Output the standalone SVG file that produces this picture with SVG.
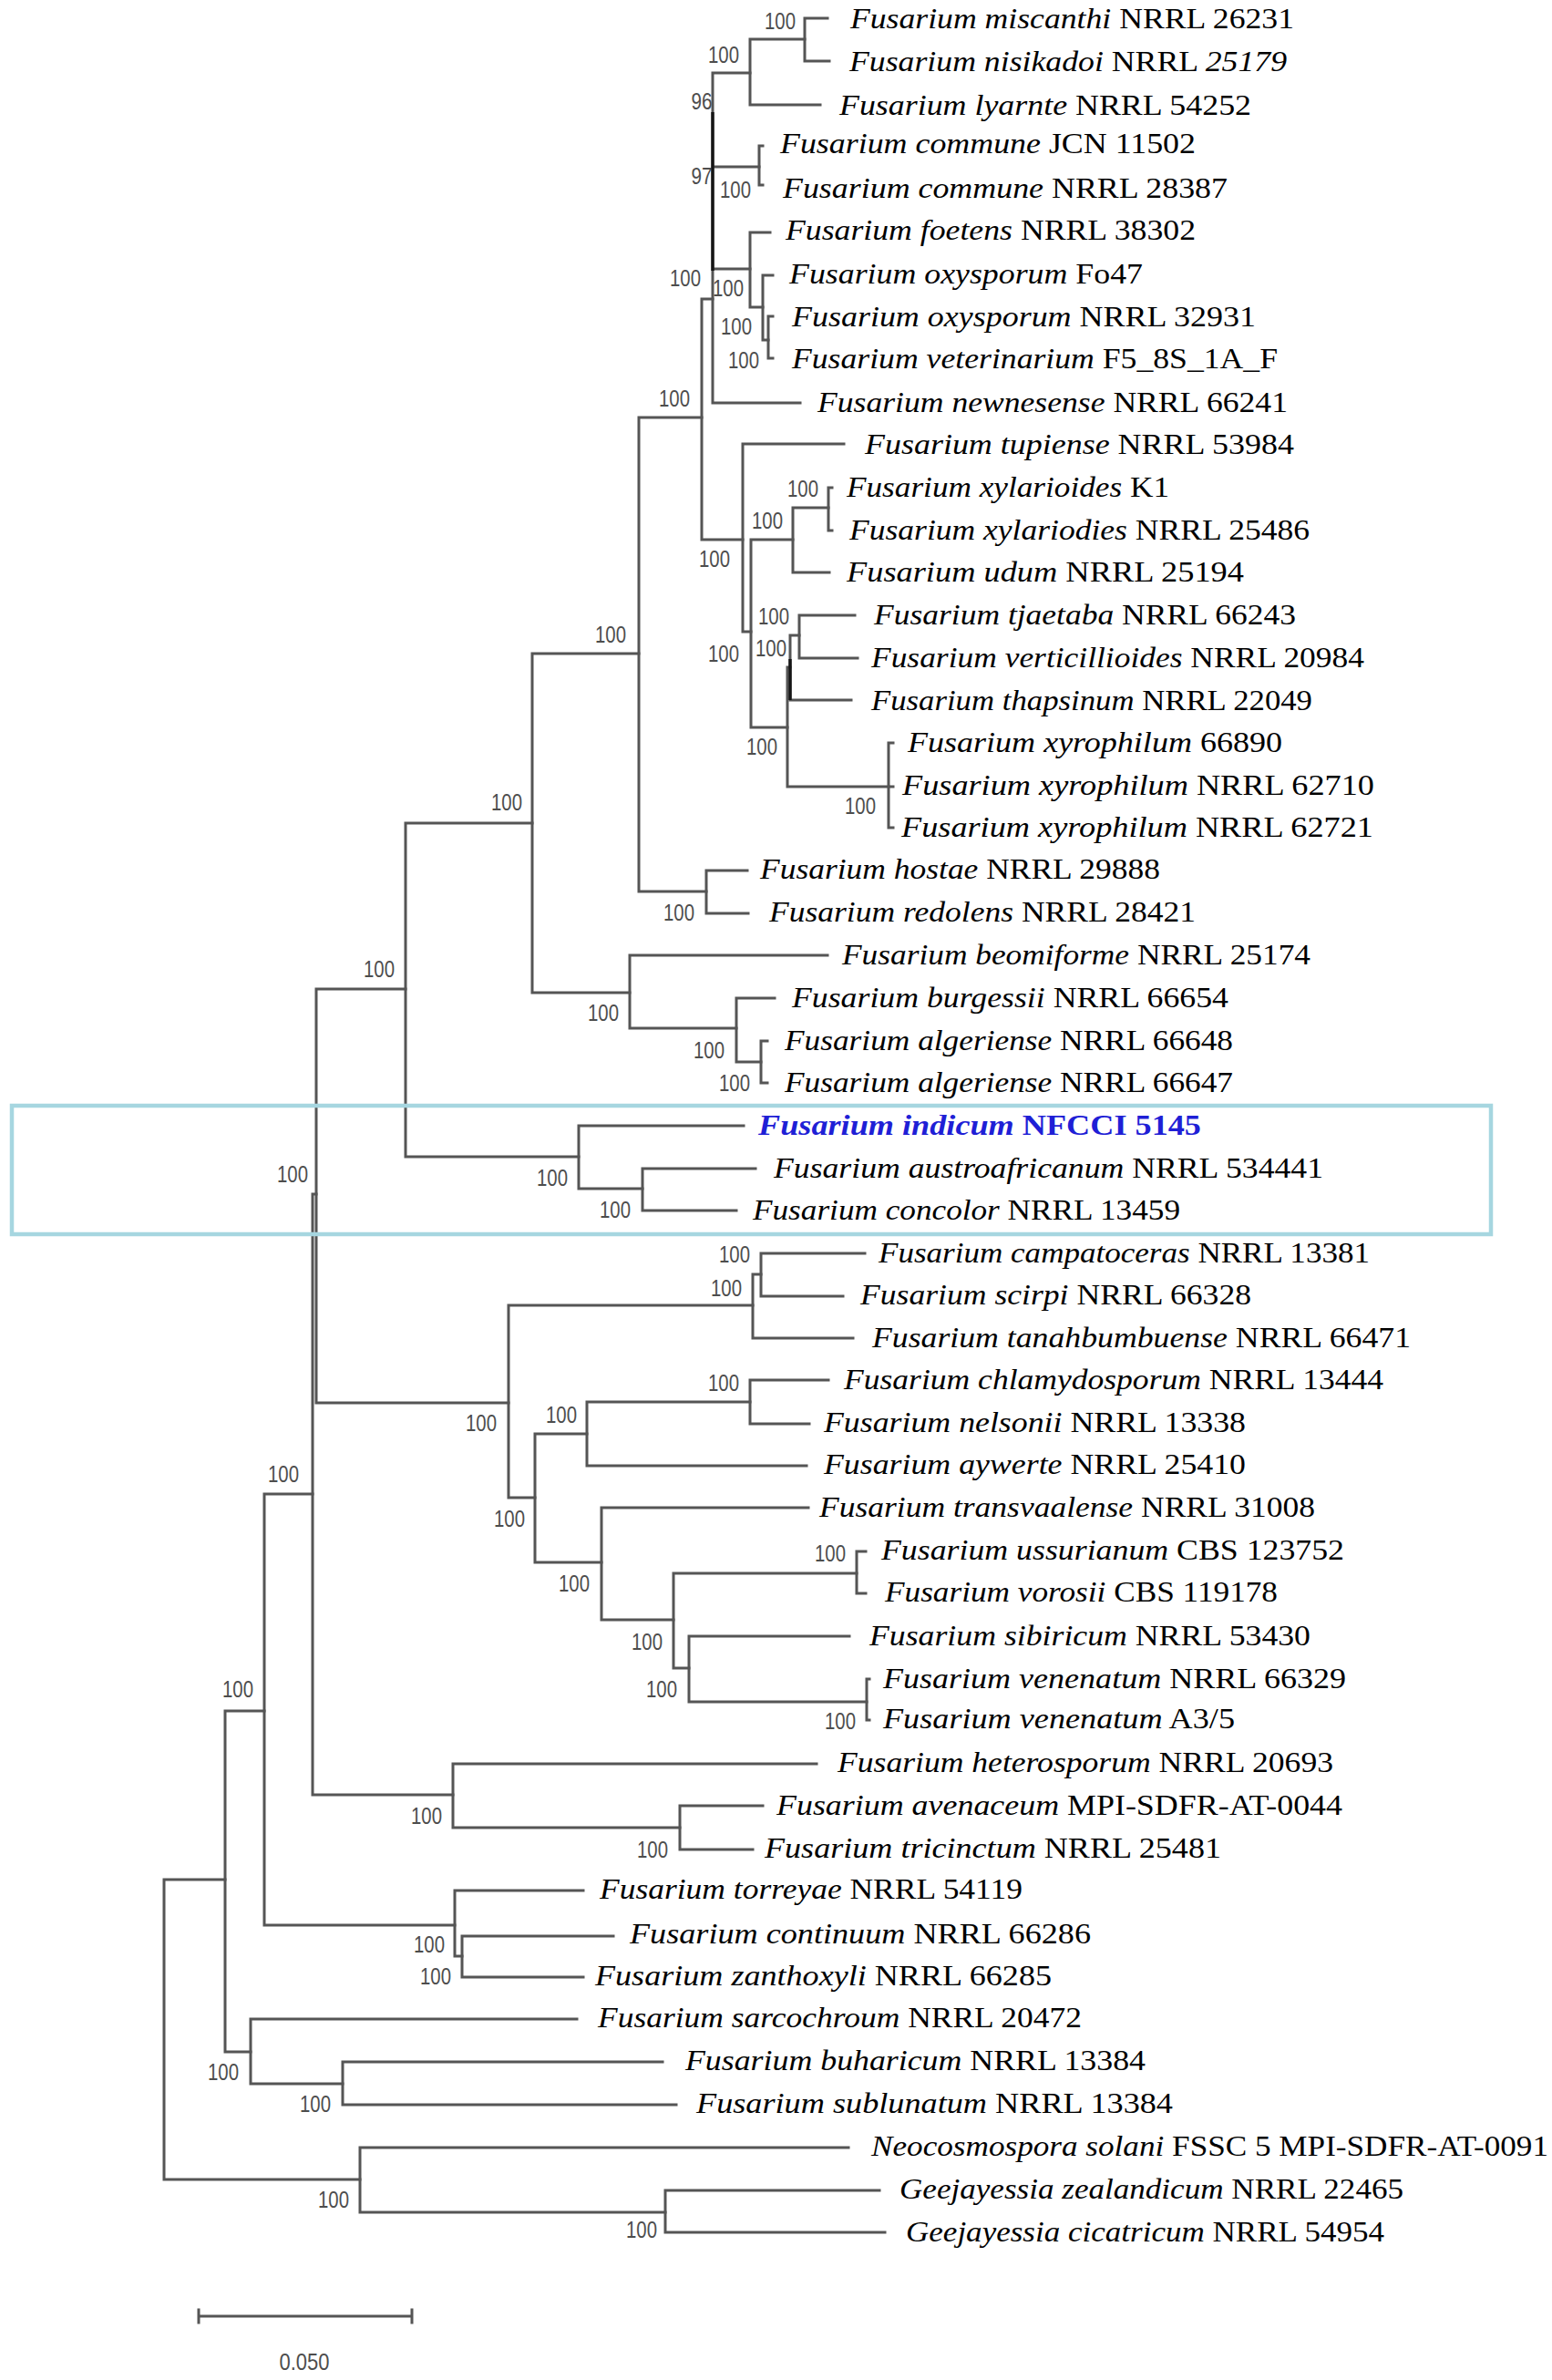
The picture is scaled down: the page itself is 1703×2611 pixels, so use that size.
<svg xmlns="http://www.w3.org/2000/svg" width="1703" height="2611" viewBox="0 0 1703 2611">
<style>
.br{stroke:#555;stroke-width:3;fill:none;stroke-linecap:square}
.dk{stroke:#151515;stroke-width:3.4;fill:none}
.bs{font-family:"Liberation Sans",Arial,sans-serif;font-size:26px;fill:#4d4d4d;text-anchor:middle}
.lf{font-family:"Liberation Serif","Times New Roman",serif;font-size:31px;fill:#000}
.sp{font-style:italic}
.hl{fill:#1f1fd6;font-weight:bold}
</style>
<rect width="1703" height="2611" fill="#fff"/>
<g id="bootstrap">
<text class="bs" x="856" y="32" textLength="34" lengthAdjust="spacingAndGlyphs">100</text>
<text class="bs" x="794" y="69" textLength="34" lengthAdjust="spacingAndGlyphs">100</text>
<text class="bs" x="770" y="120" textLength="23" lengthAdjust="spacingAndGlyphs">96</text>
<text class="bs" x="770" y="202" textLength="23" lengthAdjust="spacingAndGlyphs">97</text>
<text class="bs" x="807" y="217" textLength="34" lengthAdjust="spacingAndGlyphs">100</text>
<text class="bs" x="752" y="314" textLength="34" lengthAdjust="spacingAndGlyphs">100</text>
<text class="bs" x="799" y="325" textLength="34" lengthAdjust="spacingAndGlyphs">100</text>
<text class="bs" x="808" y="367" textLength="34" lengthAdjust="spacingAndGlyphs">100</text>
<text class="bs" x="816" y="404" textLength="34" lengthAdjust="spacingAndGlyphs">100</text>
<text class="bs" x="740" y="446" textLength="34" lengthAdjust="spacingAndGlyphs">100</text>
<text class="bs" x="881" y="545" textLength="34" lengthAdjust="spacingAndGlyphs">100</text>
<text class="bs" x="842" y="580" textLength="34" lengthAdjust="spacingAndGlyphs">100</text>
<text class="bs" x="784" y="622" textLength="34" lengthAdjust="spacingAndGlyphs">100</text>
<text class="bs" x="849" y="685" textLength="34" lengthAdjust="spacingAndGlyphs">100</text>
<text class="bs" x="794" y="726" textLength="34" lengthAdjust="spacingAndGlyphs">100</text>
<text class="bs" x="846" y="720" textLength="34" lengthAdjust="spacingAndGlyphs">100</text>
<text class="bs" x="836" y="828" textLength="34" lengthAdjust="spacingAndGlyphs">100</text>
<text class="bs" x="944" y="893" textLength="34" lengthAdjust="spacingAndGlyphs">100</text>
<text class="bs" x="670" y="705" textLength="34" lengthAdjust="spacingAndGlyphs">100</text>
<text class="bs" x="556" y="889" textLength="34" lengthAdjust="spacingAndGlyphs">100</text>
<text class="bs" x="745" y="1010" textLength="34" lengthAdjust="spacingAndGlyphs">100</text>
<text class="bs" x="416" y="1072" textLength="34" lengthAdjust="spacingAndGlyphs">100</text>
<text class="bs" x="662" y="1120" textLength="34" lengthAdjust="spacingAndGlyphs">100</text>
<text class="bs" x="778" y="1161" textLength="34" lengthAdjust="spacingAndGlyphs">100</text>
<text class="bs" x="806" y="1197" textLength="34" lengthAdjust="spacingAndGlyphs">100</text>
<text class="bs" x="321" y="1297" textLength="34" lengthAdjust="spacingAndGlyphs">100</text>
<text class="bs" x="606" y="1301" textLength="34" lengthAdjust="spacingAndGlyphs">100</text>
<text class="bs" x="675" y="1336" textLength="34" lengthAdjust="spacingAndGlyphs">100</text>
<text class="bs" x="806" y="1385" textLength="34" lengthAdjust="spacingAndGlyphs">100</text>
<text class="bs" x="797" y="1422" textLength="34" lengthAdjust="spacingAndGlyphs">100</text>
<text class="bs" x="528" y="1570" textLength="34" lengthAdjust="spacingAndGlyphs">100</text>
<text class="bs" x="794" y="1526" textLength="34" lengthAdjust="spacingAndGlyphs">100</text>
<text class="bs" x="616" y="1561" textLength="34" lengthAdjust="spacingAndGlyphs">100</text>
<text class="bs" x="311" y="1626" textLength="34" lengthAdjust="spacingAndGlyphs">100</text>
<text class="bs" x="559" y="1675" textLength="34" lengthAdjust="spacingAndGlyphs">100</text>
<text class="bs" x="630" y="1746" textLength="34" lengthAdjust="spacingAndGlyphs">100</text>
<text class="bs" x="911" y="1713" textLength="34" lengthAdjust="spacingAndGlyphs">100</text>
<text class="bs" x="710" y="1810" textLength="34" lengthAdjust="spacingAndGlyphs">100</text>
<text class="bs" x="726" y="1862" textLength="34" lengthAdjust="spacingAndGlyphs">100</text>
<text class="bs" x="922" y="1897" textLength="34" lengthAdjust="spacingAndGlyphs">100</text>
<text class="bs" x="261" y="1862" textLength="34" lengthAdjust="spacingAndGlyphs">100</text>
<text class="bs" x="468" y="2001" textLength="34" lengthAdjust="spacingAndGlyphs">100</text>
<text class="bs" x="716" y="2038" textLength="34" lengthAdjust="spacingAndGlyphs">100</text>
<text class="bs" x="471" y="2142" textLength="34" lengthAdjust="spacingAndGlyphs">100</text>
<text class="bs" x="478" y="2177" textLength="34" lengthAdjust="spacingAndGlyphs">100</text>
<text class="bs" x="245" y="2282" textLength="34" lengthAdjust="spacingAndGlyphs">100</text>
<text class="bs" x="346" y="2317" textLength="34" lengthAdjust="spacingAndGlyphs">100</text>
<text class="bs" x="366" y="2422" textLength="34" lengthAdjust="spacingAndGlyphs">100</text>
<text class="bs" x="704" y="2455" textLength="34" lengthAdjust="spacingAndGlyphs">100</text>
</g>
<g id="connectors">
<path class="br" d="M180 2062V2391M180 2062H247M180 2391H395"/>
<path class="br" d="M247 1877V2251M247 1877H290M247 2251H275"/>
<path class="br" d="M275 2215V2286M275 2215H633M275 2286H376"/>
<path class="br" d="M376 2262V2309M376 2262H727M376 2309H742"/>
<path class="br" d="M395 2356V2427M395 2356H931M395 2427H730"/>
<path class="br" d="M730 2403V2449M730 2403H965M730 2449H971"/>
<path class="br" d="M290 1639V2112M290 1639H343M290 2112H499"/>
<path class="br" d="M499 2074V2146M499 2074H640M499 2146H507"/>
<path class="br" d="M507 2124V2169M507 2124H673M507 2169H640"/>
<path class="br" d="M343 1310V1969M343 1310H347M343 1969H497"/>
<path class="br" d="M497 1935V2005M497 1935H896M497 2005H746"/>
<path class="br" d="M746 1981V2029M746 1981H837M746 2029H826"/>
<path class="br" d="M347 1085V1539M347 1085H445M347 1539H558"/>
<path class="br" d="M558 1432V1643M558 1432H826M558 1643H587"/>
<path class="br" d="M826 1398V1468M826 1398H835M826 1468H936"/>
<path class="br" d="M835 1375V1422M835 1375H949M835 1422H925"/>
<path class="br" d="M587 1573V1714M587 1573H644M587 1714H660"/>
<path class="br" d="M644 1538V1608M644 1538H823M644 1608H885"/>
<path class="br" d="M823 1514V1562M823 1514H909M823 1562H888"/>
<path class="br" d="M660 1654V1777M660 1654H887M660 1777H739"/>
<path class="br" d="M739 1726V1830M739 1726H940M739 1830H756"/>
<path class="br" d="M940 1702V1748M940 1702H950M940 1748H950"/>
<path class="br" d="M756 1795V1867M756 1795H932M756 1867H951"/>
<path class="br" d="M951 1842V1887M951 1842H954M951 1887H954"/>
<path class="br" d="M445 903V1269M445 903H584M445 1269H635"/>
<path class="br" d="M635 1235V1304M635 1235H816M635 1304H705"/>
<path class="br" d="M705 1282V1328M705 1282H829M705 1328H808"/>
<path class="br" d="M584 717V1089M584 717H701M584 1089H691"/>
<path class="br" d="M691 1048V1128M691 1048H908M691 1128H808"/>
<path class="br" d="M808 1095V1165M808 1095H850M808 1165H835"/>
<path class="br" d="M835 1142V1188M835 1142H842M835 1188H842"/>
<path class="br" d="M701 458V978M701 458H770M701 978H775"/>
<path class="br" d="M775 955V1002M775 955H820M775 1002H821"/>
<path class="br" d="M770 328V592M770 328H782M770 592H815"/>
<path class="br" d="M815 487V693M815 487H926M815 693H824"/>
<path class="br" d="M824 592V798M824 592H870M824 798H864"/>
<path class="br" d="M870 557V628M870 557H909M870 628H910"/>
<path class="br" d="M909 535V582M909 535H913M909 582H913"/>
<path class="br" d="M864 732V863M864 732H867M864 863H975"/>
<path class="br" d="M867 697V768M867 697H877M867 768H934"/>
<path class="br" d="M877 675V722M877 675H938M877 722H941"/>
<path class="br" d="M975 815V908M975 815H980M975 863H980M975 908H980"/>
<path class="br" d="M782 80V442M782 80H823M782 183H833M782 295H823M782 442H878"/>
<path class="br" d="M823 43V115M823 43H883M823 115H900"/>
<path class="br" d="M883 20V67M883 20H908M883 67H910"/>
<path class="br" d="M833 160V203M833 160H837M833 203H837"/>
<path class="br" d="M823 255V337M823 255H845M823 337H837"/>
<path class="br" d="M837 302V373M837 302H848M837 373H843"/>
<path class="br" d="M843 347V393M843 347H848M843 393H848"/>
<path class="dk" d="M782 123V297M867 723V768"/>
</g>
<g id="leaves">
<g id="leaf-01"><text class="lf" x="933" y="31" textLength="487" lengthAdjust="spacingAndGlyphs"><tspan class="sp">Fusarium miscanthi</tspan> NRRL 26231</text></g>
<g id="leaf-02"><text class="lf" x="932" y="78" textLength="480" lengthAdjust="spacingAndGlyphs"><tspan class="sp">Fusarium nisikadoi</tspan> NRRL <tspan class="sp">25179</tspan></text></g>
<g id="leaf-03"><text class="lf" x="921" y="126" textLength="452" lengthAdjust="spacingAndGlyphs"><tspan class="sp">Fusarium lyarnte</tspan> NRRL 54252</text></g>
<g id="leaf-04"><text class="lf" x="856" y="168" textLength="456" lengthAdjust="spacingAndGlyphs"><tspan class="sp">Fusarium commune</tspan> JCN 11502</text></g>
<g id="leaf-05"><text class="lf" x="859" y="217" textLength="488" lengthAdjust="spacingAndGlyphs"><tspan class="sp">Fusarium commune</tspan> NRRL 28387</text></g>
<g id="leaf-06"><text class="lf" x="862" y="263" textLength="450" lengthAdjust="spacingAndGlyphs"><tspan class="sp">Fusarium foetens</tspan> NRRL 38302</text></g>
<g id="leaf-07"><text class="lf" x="866" y="311" textLength="388" lengthAdjust="spacingAndGlyphs"><tspan class="sp">Fusarium oxysporum</tspan> Fo47</text></g>
<g id="leaf-08"><text class="lf" x="869" y="358" textLength="509" lengthAdjust="spacingAndGlyphs"><tspan class="sp">Fusarium oxysporum</tspan> NRRL 32931</text></g>
<g id="leaf-09"><text class="lf" x="869" y="404" textLength="533" lengthAdjust="spacingAndGlyphs"><tspan class="sp">Fusarium veterinarium</tspan> F5_8S_1A_F</text></g>
<g id="leaf-10"><text class="lf" x="897" y="452" textLength="516" lengthAdjust="spacingAndGlyphs"><tspan class="sp">Fusarium newnesense</tspan> NRRL 66241</text></g>
<g id="leaf-11"><text class="lf" x="949" y="498" textLength="471" lengthAdjust="spacingAndGlyphs"><tspan class="sp">Fusarium tupiense</tspan> NRRL 53984</text></g>
<g id="leaf-12"><text class="lf" x="929" y="545" textLength="354" lengthAdjust="spacingAndGlyphs"><tspan class="sp">Fusarium xylarioides</tspan> K1</text></g>
<g id="leaf-13"><text class="lf" x="932" y="592" textLength="505" lengthAdjust="spacingAndGlyphs"><tspan class="sp">Fusarium xylariodies</tspan> NRRL 25486</text></g>
<g id="leaf-14"><text class="lf" x="929" y="638" textLength="436" lengthAdjust="spacingAndGlyphs"><tspan class="sp">Fusarium udum</tspan> NRRL 25194</text></g>
<g id="leaf-15"><text class="lf" x="959" y="685" textLength="463" lengthAdjust="spacingAndGlyphs"><tspan class="sp">Fusarium tjaetaba</tspan> NRRL 66243</text></g>
<g id="leaf-16"><text class="lf" x="956" y="732" textLength="541" lengthAdjust="spacingAndGlyphs"><tspan class="sp">Fusarium verticillioides</tspan> NRRL 20984</text></g>
<g id="leaf-17"><text class="lf" x="956" y="779" textLength="484" lengthAdjust="spacingAndGlyphs"><tspan class="sp">Fusarium thapsinum</tspan> NRRL 22049</text></g>
<g id="leaf-18"><text class="lf" x="996" y="825" textLength="411" lengthAdjust="spacingAndGlyphs"><tspan class="sp">Fusarium xyrophilum</tspan> 66890</text></g>
<g id="leaf-19"><text class="lf" x="990" y="872" textLength="518" lengthAdjust="spacingAndGlyphs"><tspan class="sp">Fusarium xyrophilum</tspan> NRRL 62710</text></g>
<g id="leaf-20"><text class="lf" x="989" y="918" textLength="518" lengthAdjust="spacingAndGlyphs"><tspan class="sp">Fusarium xyrophilum</tspan> NRRL 62721</text></g>
<g id="leaf-21"><text class="lf" x="834" y="964" textLength="439" lengthAdjust="spacingAndGlyphs"><tspan class="sp">Fusarium hostae</tspan> NRRL 29888</text></g>
<g id="leaf-22"><text class="lf" x="844" y="1011" textLength="468" lengthAdjust="spacingAndGlyphs"><tspan class="sp">Fusarium redolens</tspan> NRRL 28421</text></g>
<g id="leaf-23"><text class="lf" x="924" y="1058" textLength="514" lengthAdjust="spacingAndGlyphs"><tspan class="sp">Fusarium beomiforme</tspan> NRRL 25174</text></g>
<g id="leaf-24"><text class="lf" x="869" y="1105" textLength="479" lengthAdjust="spacingAndGlyphs"><tspan class="sp">Fusarium burgessii</tspan> NRRL 66654</text></g>
<g id="leaf-25"><text class="lf" x="861" y="1152" textLength="492" lengthAdjust="spacingAndGlyphs"><tspan class="sp">Fusarium algeriense</tspan> NRRL 66648</text></g>
<g id="leaf-26"><text class="lf" x="861" y="1198" textLength="492" lengthAdjust="spacingAndGlyphs"><tspan class="sp">Fusarium algeriense</tspan> NRRL 66647</text></g>
<g id="leaf-27"><text class="lf hl" x="832" y="1245" textLength="486" lengthAdjust="spacingAndGlyphs"><tspan class="sp">Fusarium indicum</tspan> NFCCI 5145</text></g>
<g id="leaf-28"><text class="lf" x="849" y="1292" textLength="603" lengthAdjust="spacingAndGlyphs"><tspan class="sp">Fusarium austroafricanum</tspan> NRRL 534441</text></g>
<g id="leaf-29"><text class="lf" x="826" y="1338" textLength="469" lengthAdjust="spacingAndGlyphs"><tspan class="sp">Fusarium concolor</tspan> NRRL 13459</text></g>
<g id="leaf-30"><text class="lf" x="964" y="1385" textLength="539" lengthAdjust="spacingAndGlyphs"><tspan class="sp">Fusarium campatoceras</tspan> NRRL 13381</text></g>
<g id="leaf-31"><text class="lf" x="944" y="1431" textLength="429" lengthAdjust="spacingAndGlyphs"><tspan class="sp">Fusarium scirpi</tspan> NRRL 66328</text></g>
<g id="leaf-32"><text class="lf" x="957" y="1478" textLength="591" lengthAdjust="spacingAndGlyphs"><tspan class="sp">Fusarium tanahbumbuense</tspan> NRRL 66471</text></g>
<g id="leaf-33"><text class="lf" x="926" y="1524" textLength="592" lengthAdjust="spacingAndGlyphs"><tspan class="sp">Fusarium chlamydosporum</tspan> NRRL 13444</text></g>
<g id="leaf-34"><text class="lf" x="904" y="1571" textLength="463" lengthAdjust="spacingAndGlyphs"><tspan class="sp">Fusarium nelsonii</tspan> NRRL 13338</text></g>
<g id="leaf-35"><text class="lf" x="904" y="1617" textLength="463" lengthAdjust="spacingAndGlyphs"><tspan class="sp">Fusarium aywerte</tspan> NRRL 25410</text></g>
<g id="leaf-36"><text class="lf" x="899" y="1664" textLength="544" lengthAdjust="spacingAndGlyphs"><tspan class="sp">Fusarium transvaalense</tspan> NRRL 31008</text></g>
<g id="leaf-37"><text class="lf" x="967" y="1711" textLength="508" lengthAdjust="spacingAndGlyphs"><tspan class="sp">Fusarium ussurianum</tspan> CBS 123752</text></g>
<g id="leaf-38"><text class="lf" x="971" y="1757" textLength="431" lengthAdjust="spacingAndGlyphs"><tspan class="sp">Fusarium vorosii</tspan> CBS 119178</text></g>
<g id="leaf-39"><text class="lf" x="954" y="1805" textLength="484" lengthAdjust="spacingAndGlyphs"><tspan class="sp">Fusarium sibiricum</tspan> NRRL 53430</text></g>
<g id="leaf-40"><text class="lf" x="969" y="1852" textLength="508" lengthAdjust="spacingAndGlyphs"><tspan class="sp">Fusarium venenatum</tspan> NRRL 66329</text></g>
<g id="leaf-41"><text class="lf" x="969" y="1896" textLength="386" lengthAdjust="spacingAndGlyphs"><tspan class="sp">Fusarium venenatum</tspan> A3/5</text></g>
<g id="leaf-42"><text class="lf" x="919" y="1944" textLength="544" lengthAdjust="spacingAndGlyphs"><tspan class="sp">Fusarium heterosporum</tspan> NRRL 20693</text></g>
<g id="leaf-43"><text class="lf" x="852" y="1991" textLength="621" lengthAdjust="spacingAndGlyphs"><tspan class="sp">Fusarium avenaceum</tspan> MPI-SDFR-AT-0044</text></g>
<g id="leaf-44"><text class="lf" x="839" y="2038" textLength="501" lengthAdjust="spacingAndGlyphs"><tspan class="sp">Fusarium tricinctum</tspan> NRRL 25481</text></g>
<g id="leaf-45"><text class="lf" x="658" y="2083" textLength="464" lengthAdjust="spacingAndGlyphs"><tspan class="sp">Fusarium torreyae</tspan> NRRL 54119</text></g>
<g id="leaf-46"><text class="lf" x="691" y="2132" textLength="506" lengthAdjust="spacingAndGlyphs"><tspan class="sp">Fusarium continuum</tspan> NRRL 66286</text></g>
<g id="leaf-47"><text class="lf" x="653" y="2178" textLength="501" lengthAdjust="spacingAndGlyphs"><tspan class="sp">Fusarium zanthoxyli</tspan> NRRL 66285</text></g>
<g id="leaf-48"><text class="lf" x="656" y="2224" textLength="531" lengthAdjust="spacingAndGlyphs"><tspan class="sp">Fusarium sarcochroum</tspan> NRRL 20472</text></g>
<g id="leaf-49"><text class="lf" x="752" y="2271" textLength="505" lengthAdjust="spacingAndGlyphs"><tspan class="sp">Fusarium buharicum</tspan> NRRL 13384</text></g>
<g id="leaf-50"><text class="lf" x="764" y="2318" textLength="523" lengthAdjust="spacingAndGlyphs"><tspan class="sp">Fusarium sublunatum</tspan> NRRL 13384</text></g>
<g id="leaf-51"><text class="lf" x="956" y="2365" textLength="743" lengthAdjust="spacingAndGlyphs"><tspan class="sp">Neocosmospora solani</tspan> FSSC 5 MPI-SDFR-AT-0091</text></g>
<g id="leaf-52"><text class="lf" x="987" y="2412" textLength="553" lengthAdjust="spacingAndGlyphs"><tspan class="sp">Geejayessia zealandicum</tspan> NRRL 22465</text></g>
<g id="leaf-53"><text class="lf" x="994" y="2459" textLength="525" lengthAdjust="spacingAndGlyphs"><tspan class="sp">Geejayessia cicatricum</tspan> NRRL 54954</text></g>
</g>
<g id="highlight-box">
<rect x="13" y="1213" width="1623" height="141" fill="none" stroke="#a6d6e0" stroke-width="4.5"/>
</g>
<g id="scale-bar">
<path class="br" stroke-width="3.5" d="M218 2541H452M218 2534V2548M452 2534V2548"/>
<text class="bs" x="334" y="2600" font-size="24" textLength="55" lengthAdjust="spacingAndGlyphs">0.050</text>
</g>
</svg>
